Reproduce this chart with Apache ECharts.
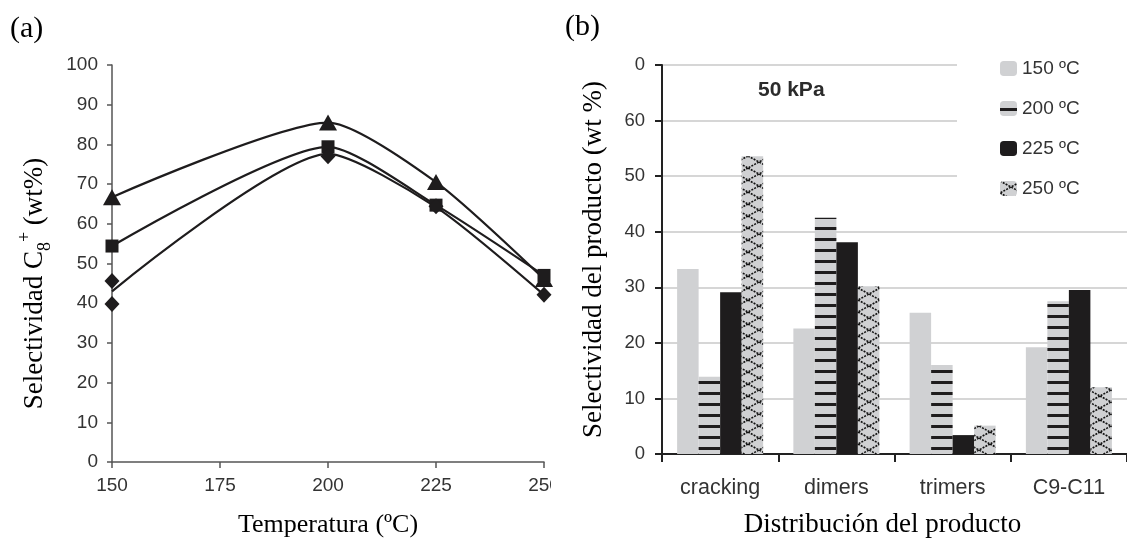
<!DOCTYPE html>
<html lang="es">
<head>
<meta charset="UTF-8">
<title>Selectividad</title>
<script src="https://cdn.jsdelivr.net/npm/echarts@6/dist/echarts.min.js"></script>
<style>
  html, body { margin: 0; padding: 0; background: #fff; }
  #main { width: 1127px; height: 543px; }
</style>
</head>
<body>
<div id="main"></div>
<script>
// (a) selectividad C8+ frente a temperatura
var temps = [150, 200, 225, 250];
var triangleVals = [66.7, 85.5, 70.5, 46.1];
var squareVals = [54.4, 79.4, 64.7, 47.0];
var diamondLineVals = [43.0, 77.6, 64.2, 42.1];
var diamondPts = [[150, 45.6], [150, 39.8], [200, 77.0], [225, 64.4], [250, 42.1]];

// (b) distribucion del producto a 50 kPa
var products = ['cracking', 'dimers', 'trimers', 'C9-C11'];
var seriesNames = ['150 ºC', '200 ºC', '225 ºC', '250 ºC'];
var sel150 = [33.3, 22.6, 25.4, 19.2];
var sel200 = [13.9, 42.5, 16.0, 27.5];
var sel225 = [29.1, 38.1, 3.4, 29.5];
var sel250 = [53.6, 30.2, 5.1, 12.0];
var rightYLabels = ['0', '10', '20', '30', '40', '50', '60', '0']; // el 70 sale cortado

var serif = "'Liberation Serif', 'Times New Roman', serif";
var sans = "'Liberation Sans', Arial, sans-serif";
var gray = '#d0d1d3';
var ink = '#1e1c1d';

// rellenos con trama
function stripePattern() {
    var c = document.createElement('canvas');
    c.width = 8; c.height = 11;
    var g = c.getContext('2d');
    g.fillStyle = gray; g.fillRect(0, 0, 8, 11);
    g.fillStyle = ink; g.fillRect(0, 7, 8, 3);
    return { image: c, repeat: 'repeat' };
}
function crossPattern() {
    var c = document.createElement('canvas');
    c.width = 22; c.height = 12;
    var g = c.getContext('2d');
    g.fillStyle = gray; g.fillRect(0, 0, 22, 12);
    g.strokeStyle = '#111';
    g.lineWidth = 1.6;
    g.setLineDash([2, 1.2]);
    g.beginPath();
    g.moveTo(0, 0); g.lineTo(22, 12);
    g.moveTo(22, 0); g.lineTo(0, 12);
    g.stroke();
    return { image: c, repeat: 'repeat' };
}

function pairs(xs, ys) {
    return xs.map(function (x, i) { return [x, ys[i]]; });
}

var myChart = echarts.init(document.getElementById('main'));

var lineStyle = { color: ink, width: 2.2 };
var smoothness = 0.22;

var option = {
    animation: false,
    backgroundColor: '#fff',
    graphic: [
        { type: 'text', left: 10, top: 14, style: { text: '(a)', font: '30px ' + serif, fill: '#000' } },
        { type: 'text', left: 565, top: 12, style: { text: '(b)', font: '30px ' + serif, fill: '#000' } },
        { type: 'text', left: 758, top: 80, style: { text: '50 kPa', font: 'bold 21px ' + sans, fill: '#2b2b2b' } },
        // el "250" de la izquierda aparece cortado
        { type: 'rect', shape: { x: 551, y: 474, width: 10, height: 30 }, style: { fill: '#fff' }, z: 100 }
    ],
    legend: {
        data: seriesNames,
        orient: 'vertical',
        left: 957,
        top: 50,
        padding: [9, 80, 24, 43],
        backgroundColor: '#fff',
        itemWidth: 17,
        itemHeight: 15,
        itemGap: 21,
        textStyle: { fontFamily: sans, fontSize: 19, color: '#333' }
    },
    grid: [
        { left: 112, top: 65, width: 432, height: 399 },
        { left: 662, top: 65, width: 476, height: 397 }
    ],
    xAxis: [{
        gridIndex: 0,
        type: 'value',
        min: 150, max: 250, interval: 25,
        name: 'Temperatura (ºC)',
        nameLocation: 'middle',
        nameGap: 50,
        nameTextStyle: { fontFamily: serif, fontSize: 26, color: '#000' },
        axisLine: { lineStyle: { color: '#555', width: 1.5 } },
        axisTick: { show: true, length: 6, lineStyle: { color: '#555', width: 1.5 } },
        axisLabel: { fontFamily: sans, fontSize: 19, color: '#333', margin: 14 },
        splitLine: { show: false }
    }, {
        gridIndex: 1,
        type: 'category',
        data: products,
        name: 'Distribución del producto',
        nameLocation: 'middle',
        nameGap: 57,
        nameTextStyle: { fontFamily: serif, fontSize: 27, color: '#000', padding: [0, 24, 0, 0] },
        axisLine: { lineStyle: { color: '#222', width: 2 } },
        axisTick: { show: true, length: 8, lineStyle: { color: '#222', width: 2 } },
        axisLabel: { fontFamily: sans, fontSize: 21.5, color: '#333', margin: 23 }
    }],
    yAxis: [{
        gridIndex: 0,
        type: 'value',
        min: 0, max: 100, interval: 10,
        name: 'Selectividad C{sub|8}{sup|+} (wt%)',
        nameLocation: 'middle',
        nameGap: 58,
        nameTextStyle: {
            fontFamily: serif, fontSize: 27, color: '#000',
            padding: [0, 40, 0, 0],
            rich: {
                sub: { fontFamily: serif, fontSize: 18, verticalAlign: 'bottom', lineHeight: 38 },
                sup: { fontFamily: serif, fontSize: 18, verticalAlign: 'top', lineHeight: 38 }
            }
        },
        axisLine: { show: true, lineStyle: { color: '#555', width: 1.5 } },
        axisTick: { show: true, length: 5, lineStyle: { color: '#555', width: 1.5 } },
        axisLabel: { fontFamily: sans, fontSize: 19, color: '#333', margin: 14 },
        splitLine: { show: false }
    }, {
        gridIndex: 1,
        type: 'value',
        min: 0, max: 70, interval: 10,
        name: 'Selectividad del producto (wt %)',
        nameLocation: 'middle',
        nameGap: 55,
        nameTextStyle: { fontFamily: serif, fontSize: 27, color: '#000' },
        axisLine: { show: true, lineStyle: { color: '#222', width: 2 } },
        axisTick: { show: true, length: 7, lineStyle: { color: '#222', width: 2 } },
        axisLabel: {
            fontFamily: sans, fontSize: 18.5, color: '#333', margin: 17,
            formatter: function (v) { return rightYLabels[Math.round(v / 10)]; }
        },
        splitLine: { show: true, lineStyle: { color: '#d6d6d6', width: 2 } }
    }],
    series: [{
        name: 'triangulos',
        type: 'line',
        xAxisIndex: 0, yAxisIndex: 0,
        data: pairs(temps, triangleVals),
        smooth: smoothness,
        symbol: 'triangle', symbolSize: [18, 16],
        itemStyle: { color: ink, opacity: 1 },
        lineStyle: lineStyle
    }, {
        name: 'cuadrados',
        type: 'line',
        xAxisIndex: 0, yAxisIndex: 0,
        data: pairs(temps, squareVals),
        smooth: smoothness,
        symbol: 'rect', symbolSize: 13,
        itemStyle: { color: ink, opacity: 1 },
        lineStyle: lineStyle
    }, {
        name: 'rombos linea',
        type: 'line',
        xAxisIndex: 0, yAxisIndex: 0,
        data: pairs(temps, diamondLineVals),
        smooth: smoothness,
        showSymbol: false,
        lineStyle: lineStyle
    }, {
        name: 'rombos',
        type: 'scatter',
        xAxisIndex: 0, yAxisIndex: 0,
        data: diamondPts,
        symbol: 'diamond', symbolSize: [15, 16],
        itemStyle: { color: ink, opacity: 1 },
        z: 5
    }, {
        name: seriesNames[0], type: 'bar', xAxisIndex: 1, yAxisIndex: 1,
        data: sel150, barGap: '0%', barCategoryGap: '26%',
        itemStyle: { color: gray }
    }, {
        name: seriesNames[1], type: 'bar', xAxisIndex: 1, yAxisIndex: 1,
        data: sel200, barGap: '0%', barCategoryGap: '26%',
        itemStyle: { color: stripePattern() }
    }, {
        name: seriesNames[2], type: 'bar', xAxisIndex: 1, yAxisIndex: 1,
        data: sel225, barGap: '0%', barCategoryGap: '26%',
        itemStyle: { color: ink }
    }, {
        name: seriesNames[3], type: 'bar', xAxisIndex: 1, yAxisIndex: 1,
        data: sel250, barGap: '0%', barCategoryGap: '26%',
        itemStyle: { color: crossPattern() }
    }]
};

myChart.setOption(option);
</script>
</body>
</html>
